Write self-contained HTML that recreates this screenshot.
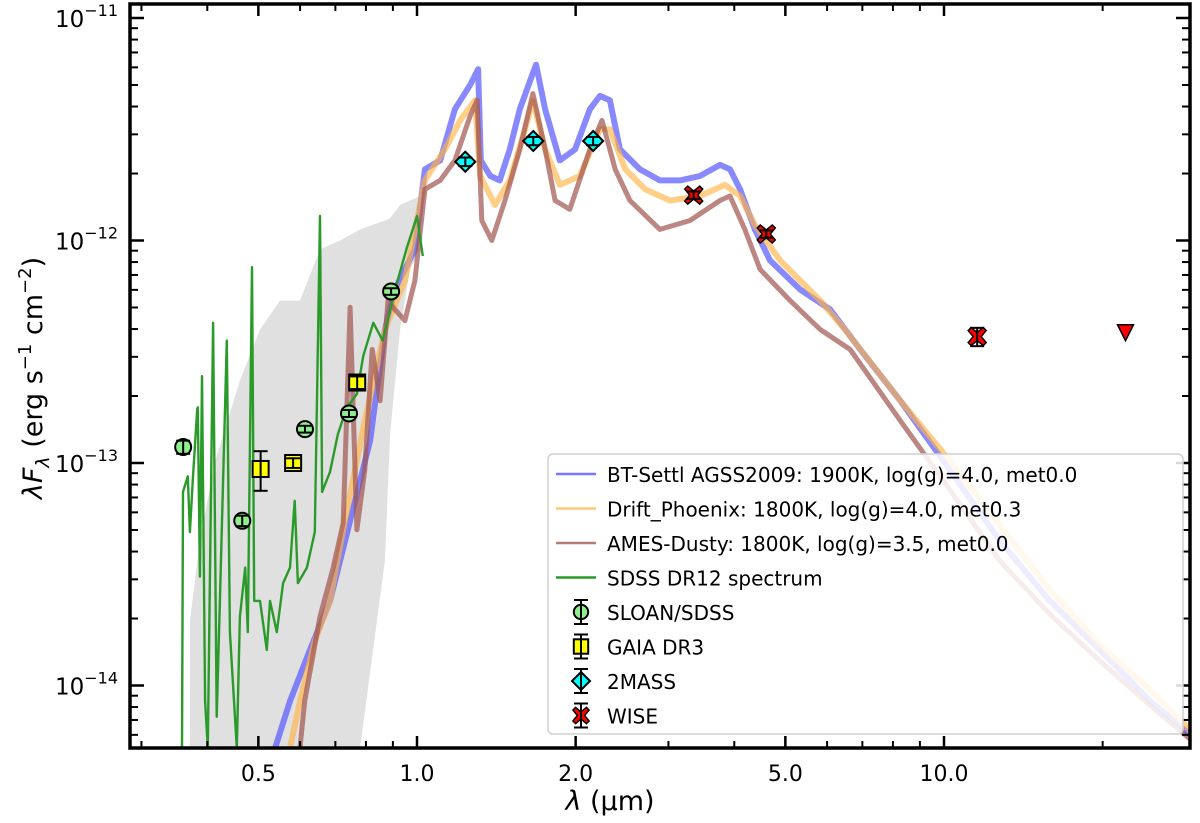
<!DOCTYPE html>
<html><head><meta charset="utf-8">
<style>
html,body{margin:0;padding:0;background:#fff;}
svg{display:block;font-family:"DejaVu Sans","Liberation Sans",sans-serif;}
</style></head>
<body>
<svg id="chart" width="1200" height="823" viewBox="0 0 1200 823" xmlns="http://www.w3.org/2000/svg">
<g id="bands"></g><g id="lines"></g><g id="points"></g><g id="axes"></g><g id="legend"></g>
</svg>
<script>
// ---- data (log10 wavelength [µm], log10 flux [erg s^-1 cm^-2]) ----
const btLogLam=[-0.269,-0.241,-0.203,-0.165,-0.127,-0.089,-0.061,-0.042,-0.023,-0.004,0.015,0.044,0.072,0.101,0.116,0.121,0.139,0.157,0.176,0.195,0.218,0.226,0.243,0.271,0.300,0.328,0.347,0.366,0.385,0.423,0.461,0.499,0.537,0.575,0.594,0.613,0.641,0.670,0.727,0.784,0.841,0.917,1.011,1.106,1.201,1.296,1.391,1.467];
const btLogF=[-14.28,-14.07,-13.84,-13.62,-13.26,-12.90,-12.40,-12.22,-12.13,-12.04,-11.68,-11.64,-11.41,-11.30,-11.23,-11.64,-11.71,-11.73,-11.59,-11.41,-11.26,-11.21,-11.41,-11.64,-11.59,-11.41,-11.35,-11.37,-11.59,-11.68,-11.73,-11.73,-11.71,-11.66,-11.68,-11.77,-11.95,-12.09,-12.22,-12.31,-12.49,-12.72,-13.03,-13.35,-13.62,-13.84,-14.07,-14.22];
const dpLogLam=[-0.241,-0.222,-0.194,-0.165,-0.137,-0.099,-0.061,-0.023,0.015,0.053,0.082,0.110,0.120,0.148,0.176,0.205,0.220,0.243,0.271,0.309,0.347,0.366,0.395,0.433,0.480,0.537,0.584,0.613,0.641,0.689,0.765,0.812,0.917,1.011,1.106,1.201,1.296,1.391,1.467];
const dpLogF=[-14.28,-14.07,-13.80,-13.62,-13.26,-12.81,-12.40,-12.18,-11.73,-11.59,-11.46,-11.37,-11.71,-11.84,-11.73,-11.50,-11.37,-11.59,-11.75,-11.71,-11.50,-11.50,-11.68,-11.77,-11.82,-11.80,-11.75,-11.80,-11.93,-12.09,-12.27,-12.40,-12.72,-12.99,-13.28,-13.57,-13.82,-14.02,-14.20];
const amLogLam=[-0.222,-0.213,-0.184,-0.159,-0.140,-0.127,-0.114,-0.099,-0.085,-0.070,-0.055,-0.042,-0.023,-0.004,0.015,0.044,0.072,0.101,0.114,0.123,0.142,0.167,0.195,0.220,0.243,0.262,0.290,0.328,0.351,0.376,0.404,0.461,0.518,0.575,0.594,0.622,0.651,0.708,0.765,0.822,0.917,1.011,1.106,1.201,1.296,1.391,1.467];
const amLogF=[-14.28,-14.07,-13.69,-13.47,-13.27,-12.30,-13.30,-13.03,-12.49,-12.72,-12.27,-12.31,-12.36,-12.18,-11.77,-11.73,-11.64,-11.44,-11.37,-11.91,-12.00,-11.82,-11.59,-11.34,-11.59,-11.82,-11.86,-11.59,-11.46,-11.68,-11.82,-11.95,-11.91,-11.82,-11.80,-11.95,-12.13,-12.27,-12.40,-12.49,-12.81,-13.12,-13.44,-13.68,-13.89,-14.09,-14.24];
const sdssLogLam=[-0.446,-0.444,-0.435,-0.431,-0.425,-0.417,-0.416,-0.412,-0.408,-0.402,-0.397,-0.387,-0.380,-0.374,-0.361,-0.355,-0.342,-0.336,-0.326,-0.321,-0.313,-0.309,-0.298,-0.285,-0.279,-0.266,-0.254,-0.241,-0.232,-0.226,-0.209,-0.194,-0.184,-0.180,-0.165,-0.150,-0.133,-0.114,-0.102,-0.083,-0.065,-0.038,-0.019,0.000,0.011];
const sdssLogF=[-14.28,-13.13,-13.06,-13.31,-13.06,-12.76,-12.75,-13.51,-12.61,-14.07,-14.28,-12.37,-14.14,-13.62,-12.45,-13.76,-14.28,-13.69,-13.47,-13.76,-12.12,-13.62,-13.62,-13.84,-13.62,-13.76,-13.54,-13.47,-13.17,-13.54,-13.47,-13.31,-11.89,-13.13,-13.04,-12.87,-12.75,-12.69,-12.52,-12.37,-12.45,-12.19,-12.03,-11.89,-12.07];
const bandLogLam=[-0.431,-0.412,-0.383,-0.336,-0.298,-0.260,-0.222,-0.184,-0.146,-0.108,-0.061,-0.051,-0.032,-0.013,0.006];
const bandUpper=[-13.71,-13.35,-12.99,-12.63,-12.40,-12.27,-12.27,-12.04,-12.00,-11.95,-11.91,-11.90,-11.84,-11.82,-11.80];
const bandLower=[-14.28,-14.28,-14.28,-14.28,-14.28,-14.28,-14.28,-14.28,-14.28,-14.28,-13.44,-12.87,-12.40,-12.13,-12.04];
// photometry (µm, flux, error)
const sloanLam=[0.36,0.466,0.613,0.743,0.893];
const sloanFlux=[1.18e-13,5.5e-14,1.42e-13,1.67e-13,5.9e-13];
const sloanErr=[0.08e-13,0.3e-14,0.05e-13,0.06e-13,0.2e-13];
const gaiaLam=[0.505,0.582,0.77];
const gaiaFlux=[9.4e-14,1.0e-13,2.3e-13];
const gaiaErr=[1.9e-14,0.05e-13,0.15e-13];
const tmassLam=[1.235,1.662,2.159];
const tmassFlux=[2.26e-12,2.8e-12,2.8e-12];
const tmassErr=[0.1e-12,0.12e-12,0.12e-12];
const wiseLam=[3.35,4.6,11.56];
const wiseFlux=[1.6e-12,1.07e-12,3.7e-13];
const wiseErr=[0.06e-12,0.04e-12,0.35e-13];
const ulLam=[22.1];
const ulFlux=[3.85e-13];
const xTickVals=[0.5,1.0,2.0,5.0,10.0];
const xTickLabels=["0.5","1.0","2.0","5.0","10.0"];
const xMinor=[0.3,0.4,0.6,0.7,0.8,0.9,3,4,6,7,8,9,20];
const yTickExp=[-11,-12,-13,-14];

// ---- scales ----
const L=130,R=1190,T=4,B=748;
const X0=417, XD=527, Y13=463, YD=222.5;
function xl(ll){return X0+ll*XD;}
function yl(lf){return Y13-(lf+13)*YD;}
function X(v){return xl(Math.log10(v));}
function Y(v){return yl(Math.log10(v));}
const NS="http://www.w3.org/2000/svg";
function mk(tag,attrs,parent){const e=document.createElementNS(NS,tag);for(const k in attrs)e.setAttribute(k,attrs[k]);parent.appendChild(e);return e;}
const bands=document.getElementById('bands'),lines=document.getElementById('lines'),pts=document.getElementById('points'),axes=document.getElementById('axes'),leg=document.getElementById('legend');

const defs=mk('defs',{},document.getElementById('chart'));
const cp=mk('clipPath',{id:'pc'},defs);mk('rect',{x:L,y:T,width:R-L,height:B-T},cp);
bands.setAttribute('clip-path','url(#pc)');lines.setAttribute('clip-path','url(#pc)');

let d='';
bandLogLam.forEach((v,i)=>{d+=(i?'L':'M')+xl(v).toFixed(1)+','+yl(bandUpper[i]).toFixed(1);});
for(let i=bandLogLam.length-1;i>=0;i--)d+='L'+xl(bandLogLam[i]).toFixed(1)+','+yl(bandLower[i]).toFixed(1);
const band=mk('path',{d:d+'Z',fill:'#dddddd',opacity:'0.9'},bands);



function line(lx,ly,color,w,op,name){
  let p='';lx.forEach((v,i)=>{p+=(i?'L':'M')+xl(v).toFixed(1)+','+yl(ly[i]).toFixed(1);});
  const e=mk('path',{d:p,fill:'none',stroke:color,'stroke-width':w,'stroke-opacity':op,'stroke-linejoin':'round'},lines);
  
  
}
line(btLogLam,btLogF,'#5555ff',6,0.7,'bt-settl-model-line');
line(dpLogLam,dpLogF,'#ffb347',6,0.65,'drift-phoenix-model-line');
line(amLogLam,amLogF,'#a0524d',5,0.7,'ames-dusty-model-line');
line(sdssLogLam,sdssLogF,'#2a9a2a',2.4,1,'sdss-spectrum-line');

function errbar(x,y1,y2,g){
  mk('line',{x1:x,x2:x,y1:y1,y2:y2,stroke:'#000','stroke-width':2},g);
  mk('line',{x1:x-7,x2:x+7,y1:y1,y2:y1,stroke:'#000','stroke-width':2},g);
  mk('line',{x1:x-7,x2:x+7,y1:y2,y2:y2,stroke:'#000','stroke-width':2},g);
}
function marker(type,x,y,g,s){
  s=s||1;
  if(type==='circle')mk('circle',{cx:x,cy:y,r:8*s,fill:'#90ee90',stroke:'#000','stroke-width':2},g);
  if(type==='square')mk('rect',{x:x-8*s,y:y-8*s,width:16*s,height:16*s,fill:'#ffff00',stroke:'#000','stroke-width':2},g);
  if(type==='diamond')mk('path',{d:`M${x},${y-10*s}L${x+10*s},${y}L${x},${y+10*s}L${x-10*s},${y}Z`,fill:'#00ffff',stroke:'#000','stroke-width':2},g);
  if(type==='x'){const a=4*s,b=9*s;mk('path',{d:`M${x-a},${y}L${x-b},${y-b+3*s}L${x-b+3*s},${y-b}L${x},${y-a}L${x+b-3*s},${y-b}L${x+b},${y-b+3*s}L${x+a},${y}L${x+b},${y+b-3*s}L${x+b-3*s},${y+b}L${x},${y+a}L${x-b+3*s},${y+b}L${x-b},${y+b-3*s}Z`,fill:'#ff0000',stroke:'#000','stroke-width':1.5},g);}
}
function series(lam,flux,err,type,name){
  lam.forEach((l,i)=>{
    const g=mk('g',{},pts);
    
    
    const x=X(l),y=Y(flux[i]);
    marker(type,x,y,g);
    errbar(x,Y(flux[i]+err[i]),Y(flux[i]-err[i]),g);
  });
}
series(sloanLam,sloanFlux,sloanErr,'circle','sloan-sdss');
series(gaiaLam,gaiaFlux,gaiaErr,'square','gaia-dr3');
series(tmassLam,tmassFlux,tmassErr,'diamond','2mass');
series(wiseLam,wiseFlux,wiseErr,'x','wise');
ulLam.forEach((l,i)=>{
  const x=X(l),y=Y(ulFlux[i]);
  const t=mk('path',{d:`M${x-8},${y-8}L${x+8},${y-8}L${x},${y+8}Z`,fill:'#ff0000',stroke:'#000','stroke-width':1.5},pts);
  
  
});

const fr=mk('rect',{x:L,y:T,width:R-L,height:B-T,fill:'none',stroke:'#000','stroke-width':3.5},axes);


function tk(x1,y1,x2,y2,w){mk('line',{x1,y1,x2,y2,stroke:'#000','stroke-width':w||2},axes);}
xTickVals.forEach((v,i)=>{
  const x=X(v);tk(x,B,x,B-12,2.5);tk(x,T,x,T+12,2.5);
  const t=mk('text',{x:x,y:B+33,'font-size':22,'text-anchor':'middle',fill:'#000'},axes);
  t.textContent=xTickLabels[i];
  
  
});
xMinor.forEach(v=>{const x=X(v);tk(x,B,x,B-7,2);tk(x,T,x,T+7,2);});
yTickExp.forEach(e=>{
  const y=yl(e);tk(L,y,L+14,y,2.5);tk(R,y,R-14,y,2.5);
  const t=mk('text',{x:L-12,y:y+9,'font-size':23,'text-anchor':'end',fill:'#000'},axes);
  t.innerHTML='10<tspan dy="-11" font-size="16">\u2212'+(-e)+'</tspan>';
  
  
  for(let m=2;m<=9;m++){const yy=yl(e+Math.log10(m));if(yy>T&&yy<B){tk(L,yy,L+8,yy,2);tk(R,yy,R-8,yy,2);}}
});
for(let m=6;m<=9;m++){const yy=yl(-15+Math.log10(m));if(yy<B){tk(L,yy,L+8,yy,2);tk(R,yy,R-8,yy,2);}}
const xt=mk('text',{x:610,y:810,'font-size':27,'text-anchor':'middle',fill:'#000'},axes);
xt.innerHTML='<tspan font-style="italic">λ</tspan> (μm)';


const yt=mk('text',{x:0,y:0,'font-size':27,'text-anchor':'middle',fill:'#000',transform:'translate(42,378) rotate(-90)'},axes);
yt.innerHTML='<tspan font-style="italic">λF</tspan><tspan font-style="italic" font-size="19" dy="7">λ</tspan><tspan dy="-7"> (erg s</tspan><tspan dy="-11" font-size="18">−1</tspan><tspan dy="11"> cm</tspan><tspan dy="-11" font-size="18">−2</tspan><tspan dy="11">)</tspan>';



const lb=mk('rect',{x:548,y:454,width:635,height:280,rx:5,fill:'#fff','fill-opacity':0.85,stroke:'#d0d0d0','stroke-width':1.5},leg);


const legLabels=['BT-Settl AGSS2009: 1900K, log(g)=4.0, met0.0','Drift_Phoenix: 1800K, log(g)=4.0, met0.3','AMES-Dusty: 1800K, log(g)=3.5, met0.0','SDSS DR12 spectrum','SLOAN/SDSS','GAIA DR3','2MASS','WISE'];
const legKinds=[['line','#7777ff'],['line','#ffc878'],['line','#b47c76'],['line','#2a9a2a'],['m','circle'],['m','square'],['m','diamond'],['m','x']];
legLabels.forEach((lab,i)=>{
  const y=474+i*34.5;
  const g=mk('g',{},leg);
  
  
  const k=legKinds[i];
  if(k[0]==='line')mk('line',{x1:556,x2:596,y1:y,y2:y,stroke:k[1],'stroke-width':2.5},g);
  else{marker(k[1],581,y,g,0.9);errbar(581,y-12,y+12,g);}
  const t=mk('text',{x:607,y:y+8,'font-size':20,fill:'#000'},g);
  t.textContent=lab;
});
</script>
</body></html>
